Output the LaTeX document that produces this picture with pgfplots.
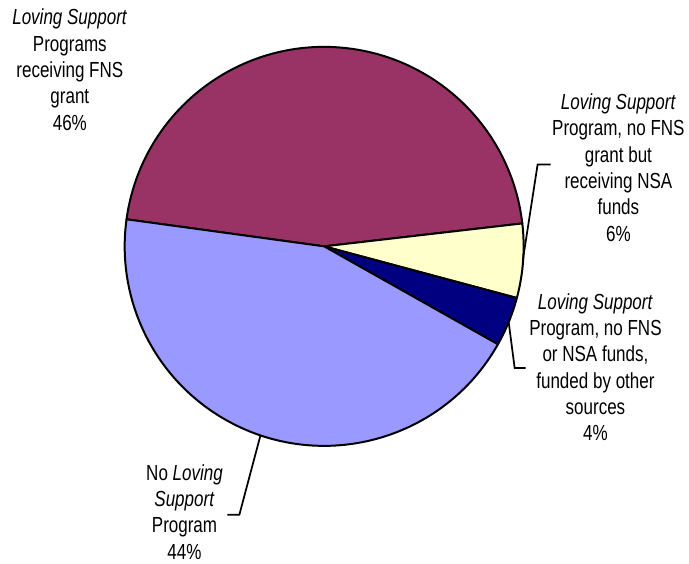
\documentclass[border=0pt]{standalone}
\usepackage{pgfplots}
\pgfplotsset{compat=1.18}
\usepackage{pgfplotstable}
\usepackage{fontspec}
\setmainfont{Liberation Sans}[FakeStretch=0.78]

\definecolor{sliceA}{HTML}{993366}
\definecolor{sliceB}{HTML}{FFFFCC}
\definecolor{sliceC}{HTML}{000080}
\definecolor{sliceD}{HTML}{9999FF}

% shares in percent, clockwise from the first slice
\pgfplotstableread{
pct colour
46 sliceA
6 sliceB
4 sliceC
44 sliceD
}\piedata

\begin{document}
\begin{tikzpicture}
\begin{axis}[
  width=516.75pt, height=423pt, scale only axis,
  xmin=0, xmax=689, ymin=0, ymax=564,
  hide axis, clip=false,
]
\path (axis cs:0,0) rectangle (axis cs:689,564);
\def\startangle{172.2}
\pgfplotstablegetrowsof{\piedata}
\pgfmathtruncatemacro{\lastrow}{\pgfplotsretval-1}
\pgfplotsforeachungrouped \i in {0,...,\lastrow}{
  \pgfplotstablegetelem{\i}{pct}\of\piedata
  \let\pct=\pgfplotsretval
  \pgfplotstablegetelem{\i}{colour}\of\piedata
  \let\col=\pgfplotsretval
  \pgfmathsetmacro{\endangle}{\startangle-3.6*\pct}
  \edef\slicecmd{\noexpand\filldraw[fill=\col, draw=black, line width=1.5pt, line join=round]
     (axis cs:325,317) -- ++(\startangle:150pt)
     arc[start angle=\startangle, end angle=\endangle, radius=150pt] -- cycle;}
  \slicecmd
  \global\let\startangle=\endangle
}

% leader lines
\draw[line width=1.3pt] (axis cs:524,302) -- (axis cs:539,399) -- (axis cs:552,399);
\draw[line width=1.3pt] (axis cs:510,241) -- (axis cs:516,195) -- (axis cs:527,195);
\draw[line width=1.3pt] (axis cs:261,127) -- (axis cs:240,48) -- (axis cs:228,48);

% labels
\tikzset{lbl/.style={align=center, font=\fontsize{16.4}{19.8}\selectfont}}
\node[lbl] at (axis cs:70,494) {\textit{Loving Support}\\Programs\\receiving FNS\\grant\\46\%};
\node[lbl] at (axis cs:620,396) {\textit{Loving Support}\\Program, no FNS\\grant but\\receiving NSA\\funds\\6\%};
\node[lbl] at (axis cs:597,196) {\textit{Loving Support}\\Program, no FNS\\or NSA funds,\\funded by other\\sources\\4\%};
\node[lbl] at (axis cs:185,51) {No \textit{Loving}\\\textit{Support}\\Program\\44\%};
\end{axis}
\end{tikzpicture}
\end{document}
